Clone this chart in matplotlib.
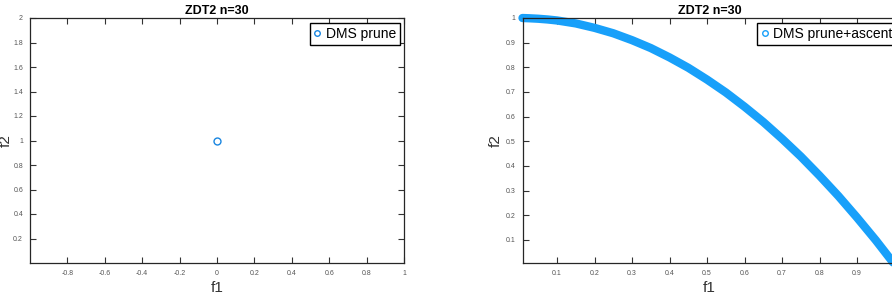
import matplotlib
matplotlib.use("Agg")
import matplotlib.pyplot as plt
from matplotlib.lines import Line2D

plt.rcParams['font.family'] = ['Liberation Sans', 'DejaVu Sans']

# left panel: single point
prune_f1 = [0.0]
prune_f2 = [1.0]

# right panel: front
ascent_f1 = [0.008, 0.025, 0.05, 0.075, 0.1, 0.125, 0.15, 0.175, 0.2, 0.225,
             0.25, 0.275, 0.3, 0.325, 0.35, 0.375, 0.4, 0.425, 0.45, 0.475,
             0.5, 0.525, 0.55, 0.575, 0.6, 0.625, 0.65, 0.675, 0.7, 0.725,
             0.75, 0.775, 0.8, 0.825, 0.85, 0.875, 0.9, 0.925, 0.95, 0.975, 1.0]
ascent_f2 = [1.0, 0.999, 0.997, 0.994, 0.99, 0.984, 0.978, 0.969, 0.96, 0.949,
             0.938, 0.924, 0.91, 0.894, 0.878, 0.859, 0.84, 0.819, 0.798, 0.774,
             0.75, 0.724, 0.698, 0.669, 0.64, 0.609, 0.578, 0.544, 0.51, 0.474,
             0.438, 0.399, 0.36, 0.319, 0.278, 0.234, 0.19, 0.144, 0.098, 0.049, 0.0]

left_xticks = [-0.8, -0.6, -0.4, -0.2, 0, 0.2, 0.4, 0.6, 0.8, 1]
left_yticks = [0.2, 0.4, 0.6, 0.8, 1, 1.2, 1.4, 1.6, 1.8, 2]
right_xticks = [0.1, 0.2, 0.3, 0.4, 0.5, 0.6, 0.7, 0.8, 0.9]
right_yticks = [0.1, 0.2, 0.3, 0.4, 0.5, 0.6, 0.7, 0.8, 0.9, 1]

W, H = 892, 301
fig = plt.figure(figsize=(W / 100, H / 100), dpi=100)

ax1 = fig.add_axes([30 / W, 38 / H, 374 / W, 245 / H])
ax2 = fig.add_axes([522.5 / W, 38 / H, 374 / W, 245 / H])

marker_col = '#1a86e0'
band_col = '#18a0fa'


def style(ax, xt, yt, ylab_x, right=True):
    ax.set_xticks(xt)
    ax.set_yticks(yt)
    ax.set_xticklabels([f'{v:g}' for v in xt])
    ax.set_yticklabels([f'{v:g}' for v in yt])
    ax.tick_params(direction='in', length=4, width=0.8, top=True, right=right,
                   labelsize=5, labelcolor='#555555', color='#333333', pad=5)
    for s in ax.spines.values():
        s.set_linewidth(0.9)
        s.set_color('#262626')
    ax.set_xlabel('f1', fontsize=11, color='#333333', labelpad=3)
    ax.set_ylabel('f2', fontsize=11, color='#333333')
    ax.yaxis.set_label_coords(ylab_x, 0.5)
    ax.set_title('ZDT2 n=30', fontsize=9, fontweight='bold', pad=3)


def add_legend(ax, col, text, xa):
    h = Line2D([], [], ls='none', marker='o', mfc='none', mec=col, ms=4, mew=1.0)
    ax.legend([h], [text], loc='upper right',
              bbox_to_anchor=(xa, 1 - 5 / 245), borderaxespad=0,
              fancybox=False, edgecolor='black', framealpha=1, fontsize=10,
              handlelength=0.5, handletextpad=0.35, borderpad=0.3)


# left
ax1.plot(prune_f1, prune_f2, 'o', mfc='none', mec=marker_col, ms=5, mew=1.0)
ax1.set_xlim(-1, 1)
ax1.set_ylim(0, 2)
style(ax1, left_xticks, left_yticks, -0.045)
add_legend(ax1, marker_col, 'DMS prune', 1 - 4 / 374)

# right
ax2.plot(ascent_f1, ascent_f2, '-', color=band_col, lw=6, solid_capstyle='round',
         solid_joinstyle='round', clip_on=False)
ax2.set_xlim(0.008, 1.005)
ax2.set_ylim(0.006, 1.0)
style(ax2, right_xticks, right_yticks, -0.052, right=False)
add_legend(ax2, band_col, 'DMS prune+ascent', 1.0)

fig.savefig('out.png', dpi=100)
